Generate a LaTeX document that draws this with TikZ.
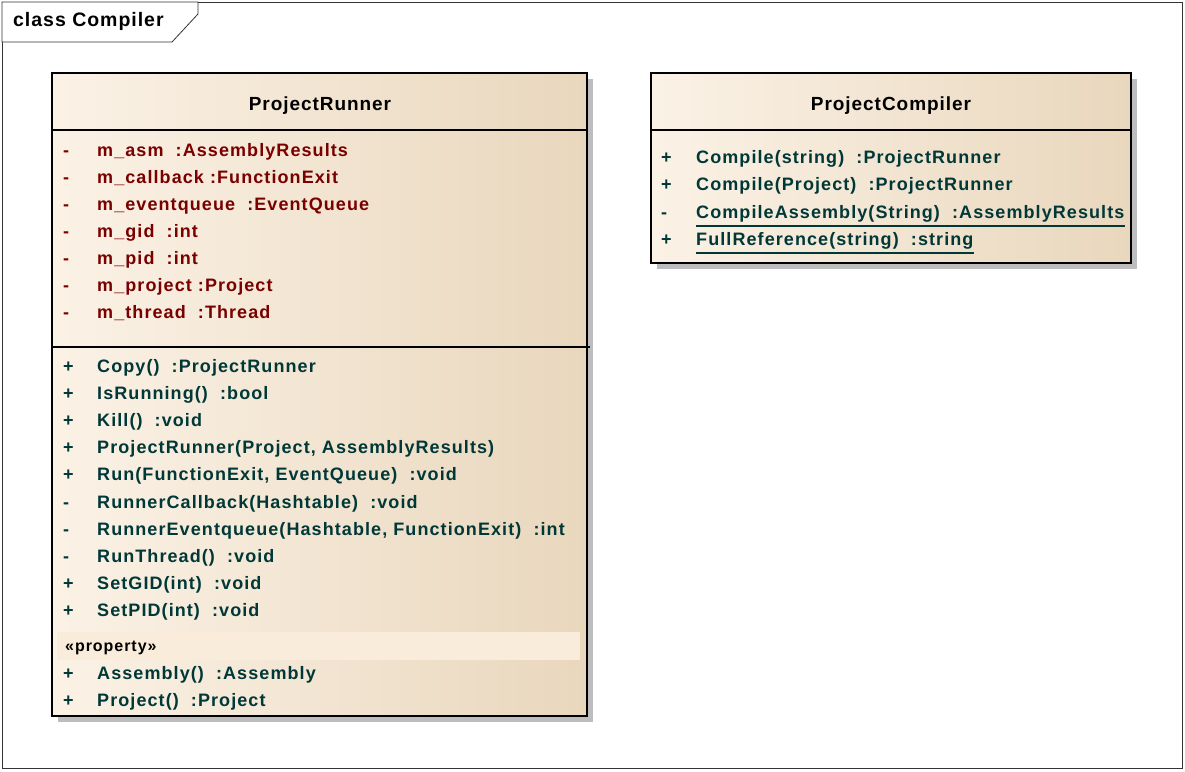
\documentclass[tikz,border=0pt]{standalone}
\usepackage{fontspec}
\setmainfont{Liberation Sans}
\newfontfamily\memberfont[LetterSpace=6]{Liberation Sans}
\newfontfamily\titlefont[LetterSpace=5]{Liberation Sans}
\usetikzlibrary{calc}
\definecolor{attrc}{HTML}{7A0000}
\definecolor{operc}{HTML}{003838}
\definecolor{fillL}{HTML}{FBF2E6}
\definecolor{fillR}{HTML}{E9D7BD}
\definecolor{shad}{HTML}{BDBDBD}
\definecolor{propband}{HTML}{F9ECDA}
\tikzset{
  member/.style={anchor=west, inner sep=0pt, text height=13pt, text depth=4pt, font=\memberfont\fontsize{18}{20}\selectfont\bfseries},
  attr/.style={member, text=attrc},
  oper/.style={member, text=operc},
  title/.style={inner sep=0pt, font=\titlefont\fontsize{19}{21}\selectfont\bfseries},
  classbox/.style={draw=black, line width=1.6pt, left color=fillL, right color=fillR, shading angle=90},
  shadowbox/.style={fill=shad, draw=none},
  sepline/.style={draw=black, line width=1.3pt},
  uline/.style={draw=operc, line width=1.2pt}
}
\begin{document}
\begin{tikzpicture}[x=1pt,y=-1pt]
\useasboundingbox (0,0) rectangle (1185,771);
% frame
\draw[line width=0.8pt, draw=black!80] (2,2) rectangle (1182,768);
\draw[line width=0.8pt, draw=black!80, fill=white] (2,2) -- (198,2) -- (198,14) -- (172,42) -- (2,42) -- cycle;
\node[inner sep=0pt, anchor=west, font=\titlefont\fontsize{19.5}{21}\selectfont\bfseries] (frametitle) at (13,21) {class Compiler};

% ProjectRunner
\fill[shadowbox] (58,79) rectangle (593,722);
\path[classbox] (52,73) rectangle (587,716);
\draw[line width=1.6pt] (52,73) rectangle (587,716);
\draw[sepline] (52,130) -- (587,130);
\draw[sepline] (52,347) -- (590,347);
\fill[propband] (57,632) rectangle (580,660);
\node[title] (prname) at (320,106) {ProjectRunner};

\foreach \i/\t in {0/{m\_asm\ \ :AssemblyResults},1/{m\_callback\ :FunctionExit},2/{m\_eventqueue\ \ :EventQueue},3/{m\_gid\ \ :int},4/{m\_pid\ \ :int},5/{m\_project\ :Project},6/{m\_thread\ \ :Thread}}{
  \node[attr] (pra\i) at (97,{152+27*\i}) {\t};
  \node[attr] (prav\i) at (63,{152+27*\i}) {-};
}
\foreach \i/\v/\t in {0/+/{Copy()\ \ :ProjectRunner},1/+/{IsRunning()\ \ :bool},2/+/{Kill()\ \ :void},3/+/{ProjectRunner(Project, AssemblyResults)},4/+/{Run(FunctionExit, EventQueue)\ \ :void},5/-/{RunnerCallback(Hashtable)\ \ :void},6/-/{RunnerEventqueue(Hashtable, FunctionExit)\ \ :int},7/-/{RunThread()\ \ :void},8/+/{SetGID(int)\ \ :void},9/+/{SetPID(int)\ \ :void}}{
  \node[oper] (pro\i) at (97,{368+27.1*\i}) {\t};
  \node[oper] (prov\i) at (63,{368+27.1*\i}) {\v};
}
\node[member, text=black, font=\memberfont\fontsize{16}{18}\selectfont\bfseries] (prop) at (65,647) {«property»};
\node[oper] (prp0) at (97,675) {Assembly()\ \ :Assembly};
\node[oper] (prpv0) at (63,675) {+};
\node[oper] (prp1) at (97,702) {Project()\ \ :Project};
\node[oper] (prpv1) at (63,702) {+};

% ProjectCompiler
\fill[shadowbox] (657,79) rectangle (1137,269);
\path[classbox] (651,73) rectangle (1131,263);
\draw[line width=1.6pt] (651,73) rectangle (1131,263);
\draw[sepline] (651,130) -- (1131,130);
\node[title] (pcname) at (891,106) {ProjectCompiler};
\foreach \i/\v/\t in {0/+/{Compile(string)\ \ :ProjectRunner},1/+/{Compile(Project)\ \ :ProjectRunner},2/-/{CompileAssembly(String)\ \ :AssemblyResults},3/+/{FullReference(string)\ \ :string}}{
  \node[oper] (pco\i) at (696,{159+27.3*\i}) {\t};
  \node[oper] (pcov\i) at (661,{159+27.3*\i}) {\v};
}
\draw[uline] (pco2.west |- 0,226) -- (pco2.east |- 0,226);
\draw[uline] (pco3.west |- 0,253) -- (pco3.east |- 0,253);
\end{tikzpicture}
\end{document}
